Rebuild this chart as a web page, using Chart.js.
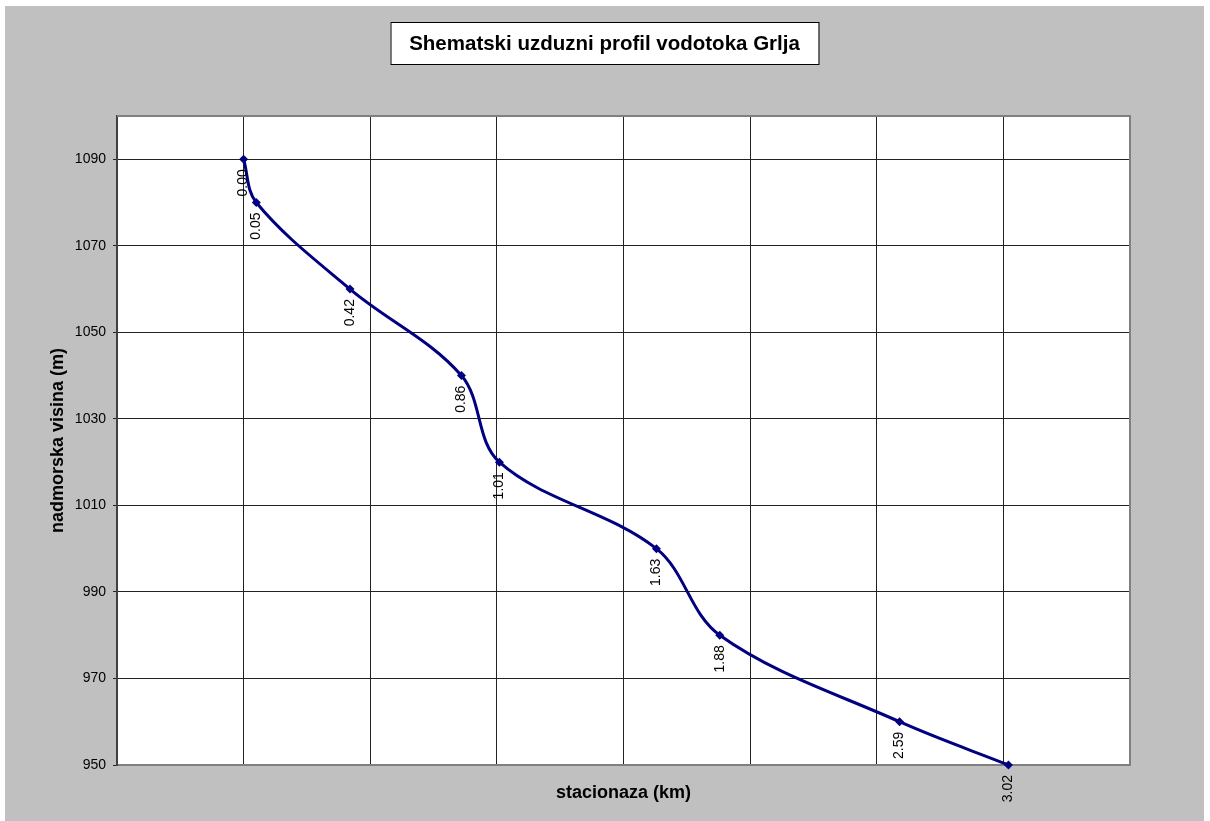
<!DOCTYPE html>
<html>
<head>
<meta charset="utf-8">
<title>Shematski uzduzni profil vodotoka Grlja</title>
<script src="https://cdn.jsdelivr.net/npm/chart.js@4.4.1/dist/chart.umd.min.js"></script>
<style>
    html, body { margin: 0; padding: 0; background: #fff; }
    #wrap { position: absolute; left: 5px; top: 6px; width: 1199px; height: 815px; background: #c0c0c0; }
</style>
</head>
<body>
<div id="wrap"><canvas id="chartProfil"></canvas></div>
<script>
// stacionaza (km) / nadmorska visina (m)
let stacionaza = [0.00, 0.05, 0.42, 0.86, 1.01, 1.63, 1.88, 2.59, 3.02];
let visina = [1090, 1080, 1060, 1040, 1020, 1000, 980, 960, 950];
let yTicks = [950, 970, 990, 1010, 1030, 1050, 1070, 1090];
let xGrid = [-0.5, 0, 0.5, 1, 1.5, 2, 2.5, 3, 3.5];
let naslov = "Shematski uzduzni profil vodotoka Grlja";

Chart.defaults.font.family = "'Liberation Sans', Arial, sans-serif";
Chart.defaults.color = "#000";

let points = stacionaza.map((x, i) => ({ x: x, y: visina[i] }));

// white plot area + grey frame, title box, rotated point labels
const excelLook = {
    id: "excelLook",
    beforeDraw(chart) {
        const a = chart.chartArea, ctx = chart.ctx;
        ctx.save();
        ctx.fillStyle = "#fff";
        ctx.fillRect(a.left, a.top, a.right - a.left, a.bottom - a.top);
        ctx.restore();
    },
    beforeDatasetsDraw(chart) {
        const a = chart.chartArea, ctx = chart.ctx;
        ctx.save();
        ctx.strokeStyle = "#808080";
        ctx.lineWidth = 2;
        ctx.beginPath();
        ctx.moveTo(a.left, a.top);
        ctx.lineTo(a.right, a.top);
        ctx.lineTo(a.right, a.bottom);
        ctx.stroke();
        ctx.restore();
    },
    afterDatasetsDraw(chart) {
        const ctx = chart.ctx;
        const meta = chart.getDatasetMeta(0);
        ctx.save();
        ctx.font = "14px 'Liberation Sans', Arial, sans-serif";
        ctx.fillStyle = "#000";
        ctx.textAlign = "right";
        ctx.textBaseline = "middle";
        meta.data.forEach((pt, i) => {
            ctx.save();
            ctx.translate(pt.x, pt.y + 10);
            ctx.rotate(-Math.PI / 2);
            ctx.fillText(stacionaza[i].toFixed(2), 0, 0);
            ctx.restore();
        });
        ctx.restore();
    },
    afterDraw(chart) {
        const ctx = chart.ctx;
        const cx = chart.width / 2;
        ctx.save();
        ctx.fillStyle = "#fff";
        ctx.fillRect(cx - 214, 16, 428, 42);
        ctx.strokeStyle = "#000";
        ctx.lineWidth = 1;
        ctx.strokeRect(cx - 214 + 0.5, 16.5, 428, 42);
        ctx.font = "bold 20.5px 'Liberation Sans', Arial, sans-serif";
        ctx.fillStyle = "#000";
        ctx.textAlign = "center";
        ctx.textBaseline = "middle";
        ctx.fillText(naslov, cx, 38);
        ctx.restore();
    }
};

new Chart("chartProfil", {
    type: "scatter",
    data: {
        datasets: [{
            data: points,
            showLine: true,
            borderColor: "#000080",
            backgroundColor: "#000080",
            borderWidth: 3,
            tension: 0.35,
            pointStyle: "rectRot",
            pointRadius: 4.5,
            pointBorderWidth: 0,
            clip: false
        }]
    },
    options: {
        responsive: true,
        maintainAspectRatio: false,
        animation: false,
        layout: { padding: { left: 0, top: 110, right: 74, bottom: 0 } },
        plugins: {
            legend: { display: false },
            tooltip: { enabled: false }
        },
        scales: {
            x: {
                type: "linear",
                min: -0.5,
                max: 3.5,
                afterBuildTicks: scale => { scale.ticks = xGrid.map(v => ({ value: v })); },
                afterFit: scale => { scale.height = 56; },
                ticks: { display: false },
                grid: { color: "#222", drawTicks: false },
                border: { color: "#808080", width: 2 },
                title: {
                    display: true,
                    text: "stacionaza (km)",
                    font: { size: 18, weight: "bold" },
                    padding: { top: 0, bottom: 17 }
                }
            },
            y: {
                min: 950,
                max: 1100,
                afterBuildTicks: scale => { scale.ticks = yTicks.map(v => ({ value: v })); },
                afterFit: scale => { scale.width = 112; },
                ticks: { font: { size: 14 }, padding: 7, callback: v => String(v) },
                grid: { color: "#222", tickLength: 4 },
                border: { color: "#404040", width: 2 },
                title: {
                    display: true,
                    text: "nadmorska visina (m)",
                    font: { size: 18, weight: "bold" },
                    padding: { top: 42, bottom: 0 }
                }
            }
        }
    },
    plugins: [excelLook]
});
</script>
</body>
</html>
